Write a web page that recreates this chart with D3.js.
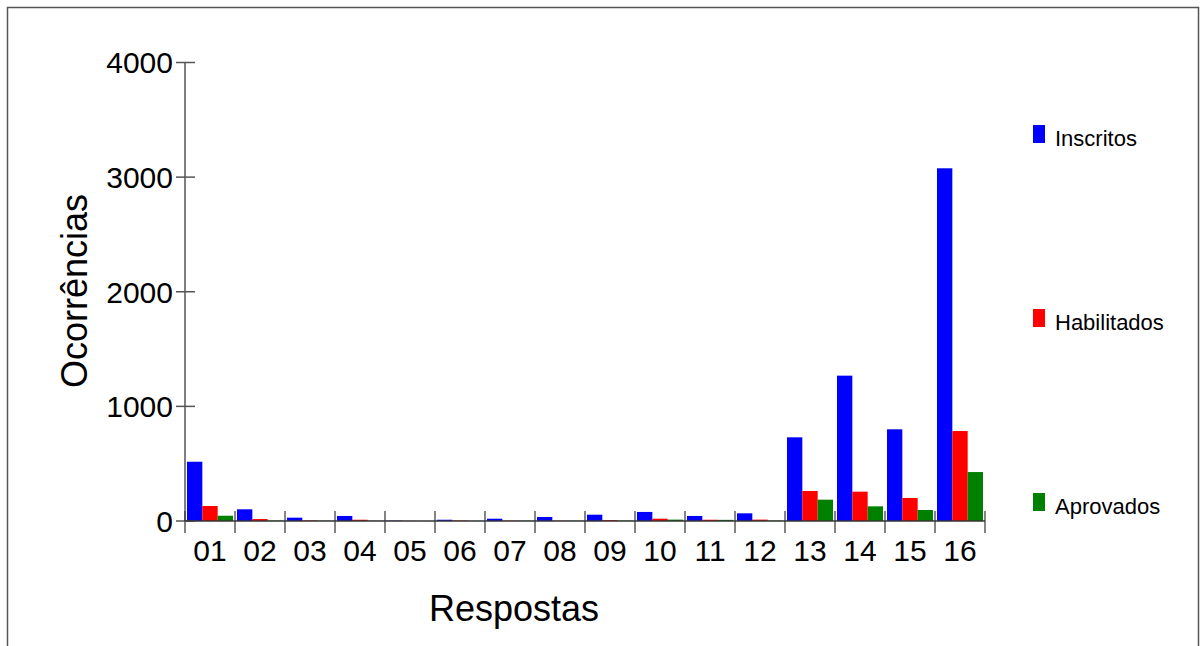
<!DOCTYPE html>
<html><head><meta charset="utf-8">
<script src="https://cdn.jsdelivr.net/npm/d3@7"></script>
<style>body{margin:0;background:#fff;}svg{display:block;font-family:"Liberation Sans",Arial,sans-serif;}</style>
</head><body>
<svg id="c" width="1200" height="646"></svg>
<script>
const categories = ["01","02","03","04","05","06","07","08","09","10","11","12","13","14","15","16"];
const inscritos  = [517,102,29,44,3,11,20,35,55,79,44,67,730,1268,800,3077];
const habilitados= [131,17,5,11,1,4,3,2,8,20,11,12,262,256,201,785];
const aprovados  = [46,3,2,2,0,1,2,2,3,12,10,3,186,128,96,427];
const seriesNames = ["Inscritos","Habilitados","Aprovados"];
const colors = ["#0000ff","#ff0000","#008000"];
const yTicks = [0,1000,2000,3000,4000];

const svg = d3.select("#c");
// frame
svg.append("path").attr("d","M7.5,660 V7.5 H1198.5 V660")
  .attr("fill","none").attr("stroke","#555").attr("stroke-width",1.5);

const x0 = 185, x1 = 985, yBase = 521, yTop = 62.5;
const x = d3.scaleBand().domain(categories).range([x0,x1]).paddingInner(0).paddingOuter(0);
const xs = d3.scaleBand().domain(seriesNames).range([2, x.bandwidth()-2]).padding(0);
const y = d3.scaleLinear().domain([0,4000]).range([yBase,yTop]);

const data = [inscritos, habilitados, aprovados];
const g = svg.append("g");
categories.forEach((c,i)=>{
  seriesNames.forEach((s,j)=>{
    const v = data[j][i];
    g.append("rect")
      .attr("x", x(c)+xs(s)).attr("width", xs.bandwidth())
      .attr("y", y(v)).attr("height", yBase - y(v))
      .attr("fill", colors[j]);
  });
});

// y axis
const yAxis = svg.append("g");
yAxis.append("line").attr("x1",x0).attr("x2",x0).attr("y1",yTop).attr("y2",yBase)
  .attr("stroke","#555").attr("stroke-width",1.5);
yTicks.forEach(t=>{
  yAxis.append("line").attr("x1",x0-9).attr("x2",x0+10).attr("y1",y(t)).attr("y2",y(t))
    .attr("stroke","#555").attr("stroke-width",1.5);
  yAxis.append("text").attr("x",x0-12).attr("y",y(t)).attr("dy","0.36em")
    .attr("text-anchor","end").attr("font-size",30).attr("fill","#000").text(t);
});

// x axis
const xAxis = svg.append("g");
xAxis.append("line").attr("x1",x0).attr("x2",x1).attr("y1",yBase).attr("y2",yBase)
  .attr("stroke","#333").attr("stroke-width",1.5);
const bounds = categories.map(c=>x(c)).concat([x1]);
bounds.forEach(b=>{
  xAxis.append("line").attr("x1",b).attr("x2",b).attr("y1",yBase-10).attr("y2",yBase+12)
    .attr("stroke","#333").attr("stroke-width",1.2);
});
categories.forEach(c=>{
  xAxis.append("text").attr("x",x(c)+x.bandwidth()/2).attr("y",561)
    .attr("text-anchor","middle").attr("font-size",30).attr("fill","#000").text(c);
});

// titles
svg.append("text").attr("transform","translate(87,291) rotate(-90)")
  .attr("text-anchor","middle").attr("font-size",36).text("Ocorrências");
svg.append("text").attr("x",514).attr("y",621)
  .attr("text-anchor","middle").attr("font-size",36).text("Respostas");

// legend
const legY = [125,309,493];
seriesNames.forEach((s,j)=>{
  svg.append("rect").attr("x",1033).attr("y",legY[j]).attr("width",12).attr("height",18).attr("fill",colors[j]);
  svg.append("text").attr("x",1055).attr("y",legY[j]+21).attr("font-size",22).attr("fill","#000").text(s);
});
</script>
</body></html>
